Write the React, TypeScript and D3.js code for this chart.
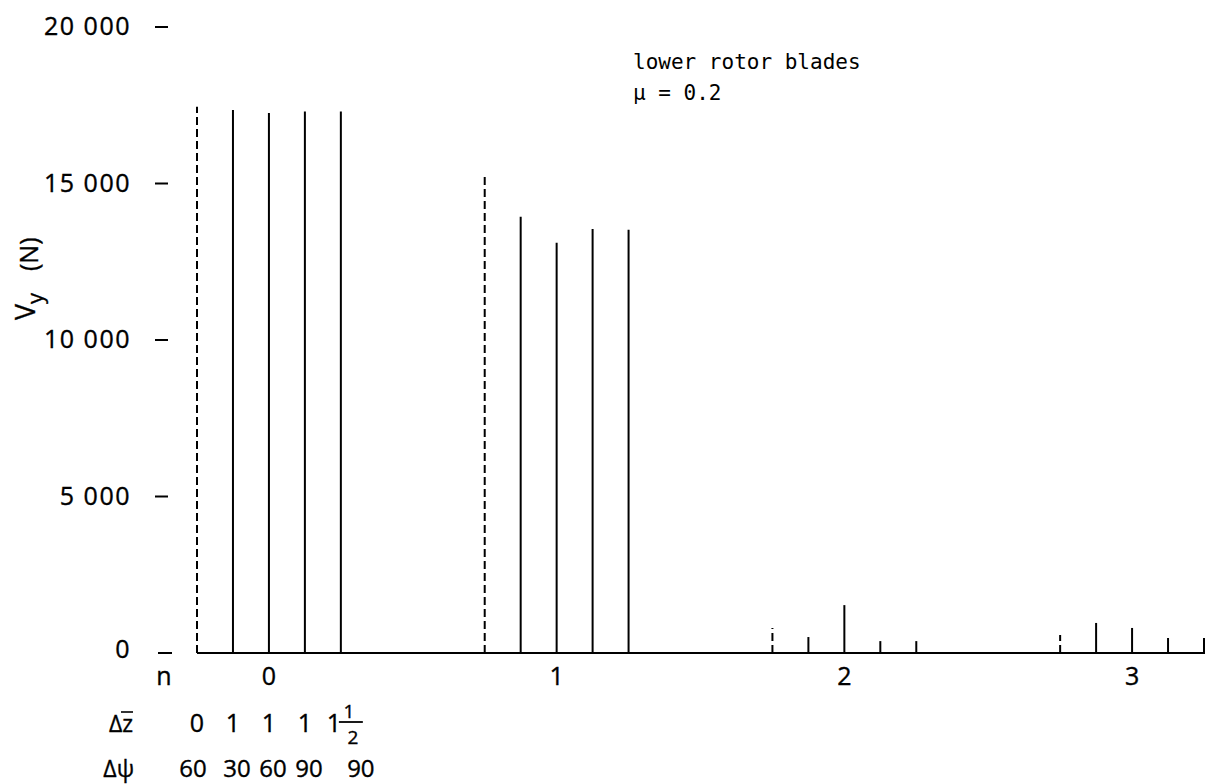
import React from "react";
import * as d3 from "d3";

// harmonic numbers n on the x axis
const harmonics = [0, 1, 2, 3];
// position of each blade configuration relative to its harmonic
const configOffsets = [-0.25, -0.125, 0, 0.125, 0.25];
const configDashed = [true, false, false, false, false];
// Δz̄ and Δψ of each configuration
const dzWhole = ["0", "1", "1", "1", "1"];
const dzHalf = [false, false, false, false, true];
const dpsiLabels = ["60", "30", "60", "90", "90"];
// Vy (N) per harmonic n = 0,1,2,3 for each configuration
const vyDz0Psi60 = [17450, 15280, 800, 575];
const vyDz1Psi30 = [17350, 13940, 510, 960];
const vyDz1Psi60 = [17250, 13110, 1530, 800];
const vyDz1Psi90 = [17300, 13550, 380, 480];
const vyDz15Psi90 = [17300, 13520, 380, 480];
const configSeries = [vyDz0Psi60, vyDz1Psi30, vyDz1Psi60, vyDz1Psi90, vyDz15Psi90];
// y ticks
const yTicks = [0, 5000, 10000, 15000, 20000];
const yTickLabels = ["0", "5 000", "10 000", "15 000", "20 000"];

const W = 1216;
const H = 784;
const labelFont = "'Open Sans', 'DejaVu Sans', sans-serif";
const monoFont = "'DejaVu Sans Mono', 'Liberation Mono', monospace";

const txt = { fontFamily: labelFont, fill: "#000", stroke: "#000", strokeWidth: 0.35 } as const;

export default function App() {
  const x = d3.scaleLinear().domain([-0.25, 3.25]).range([197, 1204]);
  const y = d3.scaleLinear().domain([0, 20000]).range([653, 27]);

  const bars: { key: string; x: number; v: number; dashed: boolean }[] = [];
  configSeries.forEach((vals, ci) => {
    vals.forEach((v, hi) => {
      bars.push({
        key: `${ci}-${hi}`,
        x: x(harmonics[hi] + configOffsets[ci]),
        v,
        dashed: configDashed[ci],
      });
    });
  });

  const rowDzBase = 732;
  const rowPsiBase = 777;

  return (
    <svg
      width={W}
      height={H}
      style={{ position: "absolute", left: 0, top: 0, display: "block", background: "#fff" }}
    >
      {/* y ticks */}
      {yTicks.map((t, i) => (
        <g key={t}>
          <line x1={t === 0 ? 158 : 155} x2={t === 0 ? 172 : 168} y1={y(t)} y2={y(t)} stroke="#000" strokeWidth={2} />
          <text
            {...txt}
            x={131}
            y={y(t) - (t === 0 ? 4 : 1)}
            dy="0.36em"
            textAnchor="end"
            fontSize={25}
            letterSpacing={1.5}
          >
            {yTickLabels[i]}
          </text>
        </g>
      ))}

      {/* y axis title */}
      <text {...txt} transform="translate(35,320) rotate(-90)" fontSize={27}>
        V
        <tspan dy={8} fontSize={22}>y</tspan>
      </text>
      <text {...txt} transform="translate(38,271) rotate(-90)" fontSize={25}>
        (N)
      </text>

      {/* baseline */}
      <line x1={x(-0.25)} x2={x(3.25) + 1} y1={y(0)} y2={y(0)} stroke="#000" strokeWidth={2} />

      {/* bars */}
      {bars.map((b) => (
        <line
          key={b.key}
          x1={b.x}
          x2={b.x}
          y1={y(0)}
          y2={y(b.v)}
          stroke="#000"
          strokeWidth={2}
          strokeDasharray={b.dashed ? "8 4" : undefined}
        />
      ))}

      {/* x tick labels */}
      <text {...txt} x={164} y={685} textAnchor="middle" fontSize={25}>
        n
      </text>
      {harmonics.map((h) => (
        <text key={h} {...txt} x={x(h)} y={685} textAnchor="middle" fontSize={25}>
          {h}
        </text>
      ))}

      {/* Δz̄ row */}
      <text {...txt} x={133} y={rowDzBase} textAnchor="end" fontSize={23}>
        Δz
      </text>
      <line x1={121} x2={133} y1={712} y2={712} stroke="#000" strokeWidth={1.6} />
      {dzWhole.map((d, i) => {
        const cx = x(harmonics[0] + configOffsets[i]);
        if (!dzHalf[i]) {
          return (
            <text key={i} {...txt} x={cx} y={rowDzBase} textAnchor="middle" fontSize={25}>
              {d}
            </text>
          );
        }
        return (
          <g key={i}>
            <text {...txt} x={cx - 7} y={rowDzBase} textAnchor="middle" fontSize={25}>
              {d}
            </text>
            <text {...txt} x={cx + 8} y={718} textAnchor="middle" fontSize={19}>
              1
            </text>
            <line x1={cx - 2} x2={cx + 22} y1={722} y2={722} stroke="#000" strokeWidth={1.8} />
            <text {...txt} x={cx + 12} y={744} textAnchor="middle" fontSize={19}>
              2
            </text>
          </g>
        );
      })}

      {/* Δψ row */}
      <text {...txt} x={134} y={rowPsiBase} textAnchor="end" fontSize={23}>
        Δψ
      </text>
      {dpsiLabels.map((d, i) => {
        const cx = x(harmonics[0] + configOffsets[i]) + (dzHalf[i] ? 20 : i === 0 ? -4 : 4);
        return (
          <text key={i} {...txt} x={cx} y={rowPsiBase} textAnchor="middle" fontSize={24}>
            {d}
          </text>
        );
      })}

      {/* annotation */}
      <text x={633} y={69} fontFamily={monoFont} fontSize={21} fill="#000">
        lower rotor blades
      </text>
      <text x={633} y={100} fontFamily={monoFont} fontSize={21} fill="#000">
        μ = 0.2
      </text>
    </svg>
  );
}
